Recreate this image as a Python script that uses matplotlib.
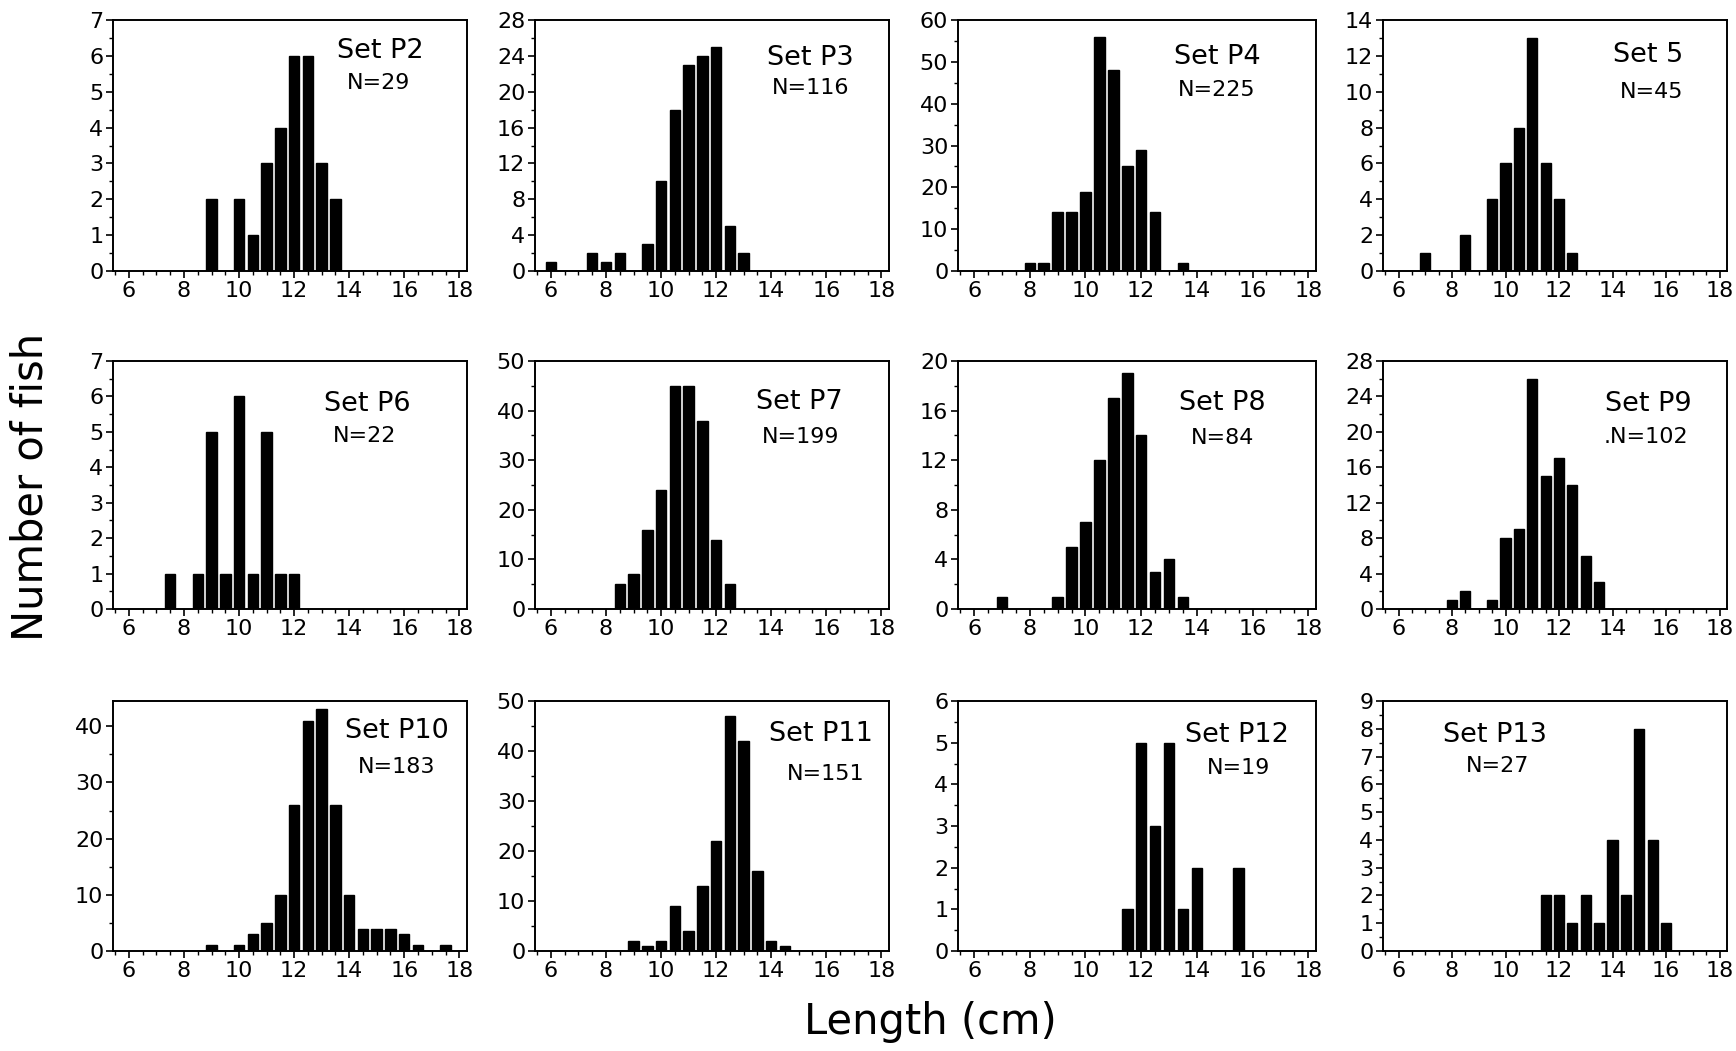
import matplotlib
matplotlib.use("Agg")
import matplotlib.pyplot as plt
from matplotlib.ticker import MultipleLocator

# length classes (cm) and counts
p2_len = [9, 10, 10.5, 11, 11.5, 12, 12.5, 13, 13.5]
p2_cnt = [2, 2, 1, 3, 4, 6, 6, 3, 2]

p3_len = [6, 7.5, 8, 8.5, 9.5, 10, 10.5, 11, 11.5, 12, 12.5, 13]
p3_cnt = [1, 2, 1, 2, 3, 10, 18, 23, 24, 25, 5, 2]

p4_len = [8, 8.5, 9, 9.5, 10, 10.5, 11, 11.5, 12, 12.5, 13.5]
p4_cnt = [2, 2, 14, 14, 19, 56, 48, 25, 29, 14, 2]

p5_len = [7, 8.5, 9.5, 10, 10.5, 11, 11.5, 12, 12.5]
p5_cnt = [1, 2, 4, 6, 8, 13, 6, 4, 1]

p6_len = [7.5, 8.5, 9, 9.5, 10, 10.5, 11, 11.5, 12]
p6_cnt = [1, 1, 5, 1, 6, 1, 5, 1, 1]

p7_len = [8.5, 9, 9.5, 10, 10.5, 11, 11.5, 12, 12.5]
p7_cnt = [5, 7, 16, 24, 45, 45, 38, 14, 5]

p8_len = [7, 9, 9.5, 10, 10.5, 11, 11.5, 12, 12.5, 13, 13.5]
p8_cnt = [1, 1, 5, 7, 12, 17, 19, 14, 3, 4, 1]

p9_len = [8, 8.5, 9.5, 10, 10.5, 11, 11.5, 12, 12.5, 13, 13.5]
p9_cnt = [1, 2, 1, 8, 9, 26, 15, 17, 14, 6, 3]

p10_len = [9, 10, 10.5, 11, 11.5, 12, 12.5, 13, 13.5, 14, 14.5, 15, 15.5, 16, 16.5, 17.5]
p10_cnt = [1, 1, 3, 5, 10, 26, 41, 43, 26, 10, 4, 4, 4, 3, 1, 1]

p11_len = [9, 9.5, 10, 10.5, 11, 11.5, 12, 12.5, 13, 13.5, 14, 14.5]
p11_cnt = [2, 1, 2, 9, 4, 13, 22, 47, 42, 16, 2, 1]

p12_len = [11.5, 12, 12.5, 13, 13.5, 14, 15.5]
p12_cnt = [1, 5, 3, 5, 1, 2, 2]

p13_len = [11.5, 12, 12.5, 13, 13.5, 14, 14.5, 15, 15.5, 16]
p13_cnt = [2, 2, 1, 2, 1, 4, 2, 8, 4, 1]

set_names = ["Set P2", "Set P3", "Set P4", "Set 5",
             "Set P6", "Set P7", "Set P8", "Set P9",
             "Set P10", "Set P11", "Set P12", "Set P13"]
set_n = ["N=29", "N=116", "N=225", "N=45",
         "N=22", "N=199", "N=84", ".N=102",
         "N=183", "N=151", "N=19", "N=27"]

lens = [p2_len, p3_len, p4_len, p5_len, p6_len, p7_len,
        p8_len, p9_len, p10_len, p11_len, p12_len, p13_len]
cnts = [p2_cnt, p3_cnt, p4_cnt, p5_cnt, p6_cnt, p7_cnt,
        p8_cnt, p9_cnt, p10_cnt, p11_cnt, p12_cnt, p13_cnt]

# y axis: top, major step, minor step
yaxes = [(7, 1, 0.5), (28, 4, 2), (60, 10, 5), (14, 2, 1),
         (7, 1, 0.5), (50, 10, 5), (20, 4, 2), (28, 4, 2),
         (44.5, 10, 5), (50, 10, 5), (6, 1, 0.5), (9, 1, 0.5)]

# label positions in axes fraction (set name, N)
lab_pos = [((0.755, 0.876), (0.75, 0.75)), ((0.777, 0.85), (0.78, 0.73)),
           ((0.725, 0.853), (0.722, 0.722)), ((0.77, 0.86), (0.78, 0.713)),
           ((0.717, 0.827), (0.711, 0.699)), ((0.746, 0.835), (0.75, 0.694)),
           ((0.738, 0.829), (0.74, 0.69)), ((0.77, 0.827), (0.765, 0.695)),
           ((0.803, 0.878), (0.80, 0.737)), ((0.808, 0.867), (0.822, 0.707)),
           ((0.78, 0.863), (0.785, 0.73)), ((0.325, 0.863), (0.332, 0.738))]

W, H = 1736, 1051
fig = plt.figure(figsize=(W / 100, H / 100), dpi=100)

col_l = [113, 535, 958, 1383]
col_r = [467, 889, 1316, 1727]
row_t = [20, 361, 701]
row_b = [271, 609, 951]

for i in range(12):
    r, c = divmod(i, 4)
    ax = fig.add_axes([col_l[c] / W, 1 - row_b[r] / H,
                       (col_r[c] - col_l[c]) / W, (row_b[r] - row_t[r]) / H])
    ax.bar(lens[i], cnts[i], width=0.38, color="black", edgecolor="black")
    ymax, maj, mnr = yaxes[i]
    ax.set_xlim(5.42, 18.28)
    ax.set_ylim(0, ymax)
    ax.xaxis.set_major_locator(MultipleLocator(2))
    ax.xaxis.set_minor_locator(MultipleLocator(0.5))
    ax.yaxis.set_major_locator(MultipleLocator(maj))
    ax.yaxis.set_minor_locator(MultipleLocator(mnr))
    ax.tick_params(which="major", length=5, width=1.2, labelsize=16, pad=2)
    ax.tick_params(which="minor", length=3, width=1.0)
    for s in ax.spines.values():
        s.set_linewidth(1.4)
    (sx, sy), (nx, ny) = lab_pos[i]
    ax.text(sx, sy, set_names[i], transform=ax.transAxes, fontsize=19.5,
            ha="center", va="center")
    ax.text(nx, ny, set_n[i], transform=ax.transAxes, fontsize=16,
            ha="center", va="center")

fig.text(31 / W, 1 - 487 / H, "Number of fish", rotation=90, fontsize=30,
         ha="center", va="center")
fig.text(930 / W, 1 - 1022 / H, "Length (cm)", fontsize=30,
         ha="center", va="center")

fig.savefig("out.png", dpi=100)
